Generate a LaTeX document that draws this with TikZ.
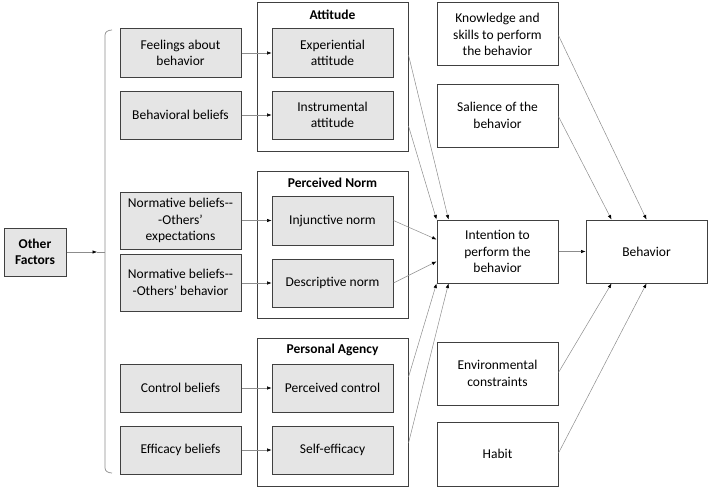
\documentclass[tikz,border=0pt]{standalone}
\usepackage{fontspec}
\setmainfont{Carlito}
\usetikzlibrary{arrows.meta,calc}
\begin{document}
\begin{tikzpicture}[x=1pt,y=-1pt,
  every node/.style={font=\fontsize{13.5}{16.5}\selectfont, align=center, inner sep=0pt},
  box/.style={draw=black!75, line width=1pt, fill=white},
  gbox/.style={box, fill=black!10, minimum width=121pt, minimum height=48pt},
  wbox/.style={box, minimum width=121pt, minimum height=63pt},
  grp/.style={box, minimum width=151pt, minimum height=148pt},
  ttl/.style={font=\fontsize{13.5}{16.5}\selectfont\bfseries},
  conn/.style={draw=black!45, line width=0.5pt},
  arr/.style={conn, -{Latex[black,length=4.5pt,width=3.5pt]}}
]
\useasboundingbox (0,0) rectangle (709,487);

% groups
\node[grp] (att) at (332.5,77) {};
\node[grp, minimum height=147pt] (nrm) at (332.5,244.5) {};
\node[grp] (agy) at (332.5,412) {};
\node[ttl] (attT) at (332.5,15) {Attitude};
\node[ttl] (nrmT) at (332.5,183) {Perceived Norm};
\node[ttl] (agyT) at (332.5,350) {Personal Agency};

% left gray boxes
\node[gbox] (feel) at (180.5,53) {Feelings about\\behavior};
\node[gbox] (bbel) at (180.5,115) {Behavioral beliefs};
\node[gbox, minimum height=57pt] (nexp) at (180.5,220.5) {Normative beliefs-{}-\\-Others’\\expectations};
\node[gbox, minimum height=57pt] (nbeh) at (180.5,282.5) {Normative beliefs-{}-\\-Others’ behavior};
\node[gbox] (cbel) at (180.5,388) {Control beliefs};
\node[gbox] (ebel) at (180.5,450) {Efficacy beliefs};

% inner gray boxes
\node[gbox] (exp) at (332.5,53) {Experiential\\attitude};
\node[gbox] (ins) at (332.5,115) {Instrumental\\attitude};
\node[gbox, minimum height=49pt] (inj) at (332.5,220.5) {Injunctive norm};
\node[gbox] (des) at (332.5,283) {Descriptive norm};
\node[gbox] (pc) at (332.5,388) {Perceived control};
\node[gbox] (se) at (332.5,450) {Self-efficacy};

% right column
\node[wbox] (know) at (497.5,34.5) {Knowledge and\\skills to perform\\the behavior};
\node[wbox] (sal) at (497.5,115.5) {Salience of the\\behavior};
\node[wbox] (int) at (497.5,251.5) {Intention to\\perform the\\behavior};
\node[wbox] (env) at (497.5,373.5) {Environmental\\constraints};
\node[wbox, minimum height=64pt] (hab) at (497.5,454) {Habit};
\node[wbox] (beh) at (646.5,251.5) {Behavior};

% other factors
\node[box, fill=black!10, minimum width=62pt, minimum height=48pt, font=\fontsize{13.5}{16.5}\selectfont\bfseries] (oth) at (35,252) {Other\\Factors};

% bracket
\coordinate (bt) at (112,30);
\coordinate (bb) at (112,473);
\coordinate (bm) at (105,252);
\coordinate (am) at (97,252);
\draw[conn, line width=0.7pt] (bt) to[out=180,in=90] (105,35) -- (105,468) to[out=-90,in=180] (bb);
\draw[arr] (oth.east) -- (am);
\draw[conn] (am) -- (bm);

% left to inner
\draw[arr] (feel) -- (exp);
\draw[arr] (bbel) -- (ins);
\draw[arr] (nexp.east |- inj) -- (inj);
\draw[arr] (nbeh.east |- des) -- (des);
\draw[arr] (cbel) -- (pc);
\draw[arr] (ebel) -- (se);

% to intention
\coordinate (a1) at ($(exp.east -| att.east)+(0,2)$);
\coordinate (a2) at ($(ins.east -| att.east)+(0,11)$);
\coordinate (p1) at ($(pc.east -| agy.east)+(0,-11)$);
\coordinate (p2) at ($(se.east -| agy.east)+(0,-7)$);
\draw[arr] (a1) -- ($(int.north west)+(12,0)$);
\draw[arr] (a2) -- (int.north west);
\draw[arr] (inj.east) -- ($(int.west)+(0,-12)$);
\draw[arr] (des.east) -- ($(int.west)+(0,10)$);
\draw[arr] (p1) -- (int.south west);
\draw[arr] (p2) -- ($(int.south west)+(12,0)$);

% to behavior
\draw[arr] (int) -- (beh);
\draw[arr] ($(know.east)+(0,1)$) -- ($(beh.north)+(0,0)$);
\draw[arr] ($(sal.east)+(0,1)$) -- ($(beh.north west)+(26,0)$);
\draw[arr] ($(env.east)+(0,-1)$) -- ($(beh.south west)+(26,0)$);
\draw[arr] ($(hab.east)+(0,-1)$) -- (beh.south);
\end{tikzpicture}
\end{document}
